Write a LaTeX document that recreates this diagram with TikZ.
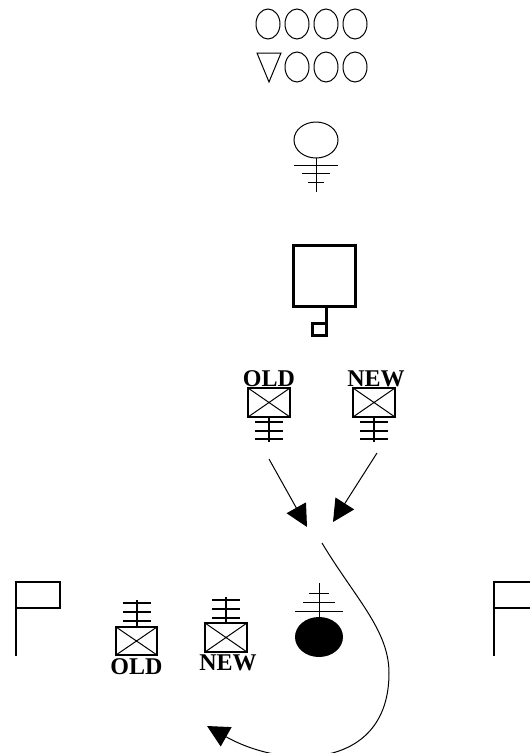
\documentclass[tikz,border=0pt]{standalone}
\usepackage{fontspec}
\setmainfont{Liberation Serif}
\usetikzlibrary{arrows.meta}

\begin{document}
\begin{tikzpicture}[
    x=1pt, y=-1pt,
    thin_line/.style={line width=1pt},
    box_line/.style={line width=1.4pt},
    heavy_line/.style={line width=3pt},
    bar_line/.style={line width=2pt},
    flag_line/.style={line width=1.6pt},
    tag_style/.style={font=\fontsize{24}{24}\selectfont\bfseries, inner sep=0pt},
    big_tip/.style={-{Triangle[length=22pt, width=22pt]}, line width=1pt}
]
\useasboundingbox (0,0) rectangle (530,753);

% Rows of ovals at the top
\foreach \x in {268,297,326,355} {
    \draw[thin_line] (\x,24) ellipse [x radius=12pt, y radius=15pt];
}
\draw[thin_line] (257,53) -- (281,53) -- (269,82) -- cycle;
\foreach \x in {297,326,355} {
    \draw[thin_line] (\x,67) ellipse [x radius=12pt, y radius=15pt];
}

% Circle with three bars
\draw[thin_line] (316,140) ellipse [x radius=22pt, y radius=18pt];
\draw[thin_line] (316,158) -- (316,192);
\draw[thin_line] (294,165) -- (338,165);
\draw[thin_line] (302,173) -- (330,173);
\draw[thin_line] (308,182) -- (324,182);

% Square with small square
\draw[heavy_line] (293,245) rectangle (355,306);
\draw[heavy_line] (326,306) -- (326,335) -- (312,335) -- (312,323) -- (326,323);

% Upper pair: label, box, bars below
\begin{scope}[shift={(269,388)}]
    \node[tag_style] (old_top) at (0,-9) {OLD};
    \draw[box_line] (-21,0) rectangle (21,29);
    \draw[thin_line] (-21,0) -- (21,29) (21,0) -- (-21,29);
    \draw[bar_line] (0,29) -- (0,54);
    \foreach \y in {34,43,51} \draw[bar_line] (-14,\y) -- (14,\y);
\end{scope}
\begin{scope}[shift={(374,388)}]
    \node[tag_style] (new_top) at (2,-9) {NEW};
    \draw[box_line] (-21,0) rectangle (21,29);
    \draw[thin_line] (-21,0) -- (21,29) (21,0) -- (-21,29);
    \draw[bar_line] (0,29) -- (0,54);
    \foreach \y in {34,43,51} \draw[bar_line] (-14,\y) -- (14,\y);
\end{scope}

% Arrows
\coordinate (a1s) at (269,459);
\coordinate (a1e) at (307,527);
\coordinate (a2s) at (377,453);
\coordinate (a2e) at (333,522);
\coordinate (a3s) at (322,543);
\coordinate (a3m) at (389,673);
\coordinate (a3e) at (207,726);
\draw[big_tip] (a1s) -- (a1e);
\draw[big_tip] (a2s) -- (a2e);
\draw[big_tip] (a3s) .. controls (355,598) and (389,630) .. (a3m)
    .. controls (389,770) and (285,770) .. (a3e);

% Flags at the sides
\draw[flag_line] (16,656) -- (16,582) -- (60,582) -- (60,608) -- (16,608);
\draw[flag_line] (494,656) -- (494,582) -- (531,582) (494,608) -- (531,608);

% Lower pair: bars above, box, label below
\begin{scope}[shift={(136.5,627)}]
    \draw[bar_line] (0,0) -- (0,-27);
    \foreach \y in {-24,-15,-6} \draw[bar_line] (-14,\y) -- (14,\y);
    \draw[box_line] (-20.5,0) rectangle (20.5,28);
    \draw[thin_line] (-20.5,0) -- (20.5,28) (20.5,0) -- (-20.5,28);
    \node[tag_style] (old_bot) at (0,40) {OLD};
\end{scope}
\begin{scope}[shift={(226,623)}]
    \draw[bar_line] (0,0) -- (0,-26);
    \foreach \y in {-23,-14,-5} \draw[bar_line] (-14,\y) -- (14,\y);
    \draw[box_line] (-21,0) rectangle (21,29);
    \draw[thin_line] (-21,0) -- (21,29) (21,0) -- (-21,29);
    \node[tag_style] (new_bot) at (2,40) {NEW};
\end{scope}

% Black oval with bars above
\fill (319,637) ellipse [x radius=24pt, y radius=20pt];
\draw[thin_line] (319,583) -- (319,617);
\draw[thin_line] (309,593) -- (329,593);
\draw[thin_line] (303,602) -- (335,602);
\draw[thin_line] (295,611) -- (343,611);

\end{tikzpicture}
\end{document}
